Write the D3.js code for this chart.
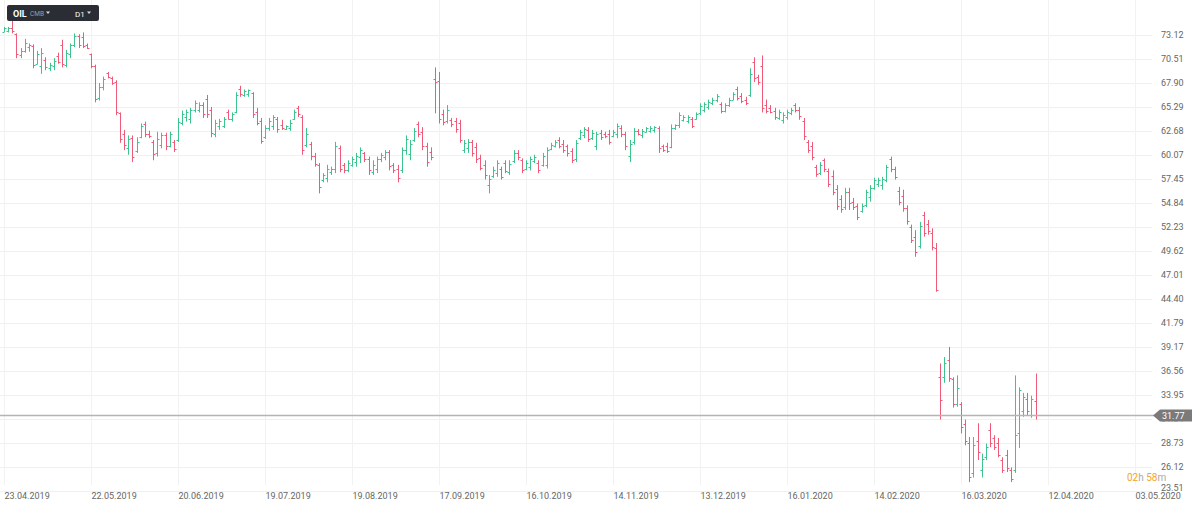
<!DOCTYPE html>
<html><head><meta charset="utf-8">
<script src="https://cdn.jsdelivr.net/npm/d3@7"></script>
<style>html,body{margin:0;padding:0;background:#fff;overflow:hidden}svg{display:block;font-family:Roboto,"Open Sans",sans-serif}</style>
</head><body><svg id="c" width="1200" height="507"></svg>
<script>
const highs = [74.0,74.0,74.8,73.3,71.7,72.7,72.2,72.1,71.4,71.7,70.7,70.1,70.6,71.2,72.6,71.5,72.2,73.3,73.2,73.4,
72.2,71.1,69.9,67.9,68.6,69.1,68.6,68.2,64.7,62.8,62.2,62.2,62.0,63.5,63.7,62.7,61.7,62.6,62.5,62.5,
62.6,61.7,64.1,64.9,65.0,65.2,66.0,65.8,65.8,66.6,65.3,63.9,64.0,64.2,65.0,64.7,66.9,67.6,67.2,67.2,
66.9,65.2,64.1,63.3,64.1,64.4,64.2,63.9,63.3,63.9,65.0,65.4,64.4,63.0,61.5,60.3,59.2,58.1,59.0,58.8,
61.5,61.1,59.2,59.5,59.9,60.3,60.9,60.4,59.9,59.5,59.9,60.3,60.6,60.6,59.2,59.0,60.9,62.2,61.7,63.0,
63.7,63.1,61.4,60.9,69.6,69.1,65.0,65.5,64.1,64.1,63.9,61.7,61.8,61.7,61.4,60.1,59.5,57.9,58.8,59.5,
58.8,59.5,59.5,60.6,60.6,59.7,59.5,59.9,60.1,59.5,60.3,60.9,61.4,61.7,62.0,61.7,61.2,60.8,61.7,62.8,
63.1,63.1,62.8,62.6,62.8,62.6,62.8,62.8,63.5,63.3,62.6,61.7,63.0,62.9,62.9,63.1,63.2,63.2,63.2,61.2,
61.4,63.4,63.4,64.7,64.4,64.4,64.2,64.7,65.7,65.8,66.1,66.3,66.7,65.8,65.7,66.3,66.9,67.5,66.8,66.4,
69.5,70.7,68.8,70.9,66.1,65.5,65.2,65.0,64.7,65.0,65.2,65.7,65.3,64.1,61.7,61.5,59.0,59.3,59.7,58.6,
58.4,56.8,55.7,56.5,56.5,55.4,54.8,54.8,56.3,56.8,57.6,57.6,57.7,59.0,59.9,58.8,56.6,56.3,54.6,52.5,
51.9,52.8,53.9,53.0,52.1,50.5,37.4,38.1,39.2,35.9,36.1,33.2,31.3,29.4,29.4,30.9,27.6,28.7,30.9,29.6,
29.3,27.2,28.0,26.1,36.1,34.8,34.2,34.2,33.9,36.3];
const lows = [73.4,73.4,73.3,70.6,70.6,71.2,71.3,69.5,69.9,68.9,69.3,69.2,69.3,70.0,69.6,69.6,70.6,71.8,71.7,71.7,
71.6,69.5,65.8,66.0,67.1,68.4,67.7,64.4,61.4,60.6,60.1,59.3,60.3,61.9,62.0,61.9,59.5,59.9,60.8,60.6,
60.9,60.4,61.5,63.3,63.7,63.5,64.7,64.7,64.1,64.1,62.0,62.0,62.8,63.0,63.9,63.7,64.6,66.4,66.4,66.4,
64.1,63.3,61.3,61.8,62.7,62.8,62.5,62.8,62.8,62.7,63.9,64.2,60.1,60.9,59.5,58.8,55.9,57.1,57.1,57.9,
58.1,58.2,58.1,58.2,58.8,58.8,59.2,59.3,57.9,57.9,58.1,59.3,59.5,58.4,58.1,57.1,58.1,60.1,59.5,61.5,
62.0,60.6,58.8,59.5,64.6,63.5,63.3,63.5,63.1,62.5,61.4,60.3,60.3,59.9,59.2,58.4,57.4,55.9,57.6,57.7,
57.4,58.1,57.9,59.2,59.5,58.1,58.4,58.4,59.2,58.1,58.8,58.6,60.6,60.9,60.8,60.3,59.9,59.2,59.3,61.7,
61.9,61.5,61.7,60.6,61.7,61.9,61.2,62.0,61.9,62.0,60.6,59.3,61.2,62.2,61.9,62.5,62.5,62.5,60.3,60.4,
60.3,60.8,62.8,63.0,63.7,63.5,63.0,63.9,64.4,64.7,65.0,65.5,65.8,64.6,64.7,65.3,66.0,66.0,65.7,65.5,
66.4,68.0,67.7,64.7,64.6,64.6,63.9,63.9,63.5,63.9,64.4,64.7,63.9,61.7,60.3,59.5,57.7,57.9,58.2,56.6,
55.7,54.1,53.8,54.1,54.1,54.1,53.0,53.8,54.4,55.0,56.3,56.6,56.3,57.1,58.2,57.4,54.6,53.9,52.5,50.5,
49.0,49.9,51.2,51.4,49.7,45.2,31.3,35.3,35.4,32.6,32.7,29.8,28.5,24.5,25.0,26.9,25.0,26.9,28.3,28.0,
27.2,25.5,25.6,24.5,25.5,28.2,31.6,31.8,31.5,31.3];
const opens = [73.5,73.6,73.9,73.2,70.9,71.4,71.8,71.9,70.0,69.8,70.4,69.5,69.8,70.8,72.0,69.9,71.0,72.0,73.0,72.9,
72.0,71.0,69.7,66.3,67.5,69.0,68.4,68.0,64.6,62.3,60.8,61.9,60.5,62.0,63.4,62.4,61.5,60.3,61.2,62.2,
61.1,61.5,61.7,63.6,64.2,64.0,65.0,65.0,65.5,66.2,65.0,62.3,63.2,63.2,64.7,64.0,64.8,67.2,66.6,66.7,
66.8,64.7,63.8,62.0,63.0,63.2,64.0,63.3,62.9,63.0,64.0,65.2,64.2,61.2,61.3,60.0,59.0,57.3,57.6,58.2,
58.5,60.8,59.0,58.4,59.0,59.3,59.8,60.3,59.6,58.2,58.6,59.6,59.9,60.4,59.0,58.6,58.4,60.6,60.2,61.7,
63.4,62.6,61.0,60.4,68.3,68.1,64.5,63.8,63.9,63.8,63.5,60.6,60.8,61.5,60.9,59.7,59.0,56.8,57.8,58.1,
58.5,59.2,58.2,59.4,60.3,59.5,58.6,58.8,59.4,59.2,59.0,59.0,60.7,61.1,61.7,61.3,61.0,60.5,59.6,61.9,
62.2,62.8,61.9,61.0,62.5,62.4,62.4,62.1,62.3,63.0,62.3,60.0,61.5,62.7,62.2,62.6,62.7,62.8,63.0,61.0,
61.0,60.9,63.0,63.3,63.9,63.8,64.0,64.0,64.6,65.0,65.3,65.7,66.0,65.6,64.9,65.5,66.1,67.2,66.5,66.1,
66.6,70.2,68.6,69.8,65.5,65.2,64.9,64.1,63.9,64.2,64.6,65.5,65.0,63.8,61.5,61.0,58.8,58.1,59.5,58.3,
57.8,56.4,55.3,54.4,56.0,55.0,54.5,54.0,54.6,55.5,56.5,56.9,56.8,57.4,59.6,58.5,56.2,55.6,54.3,52.2,
51.2,50.2,53.5,52.6,51.6,50.0,35.9,35.9,37.8,35.7,33.0,33.0,30.8,28.8,25.5,29.0,25.8,27.2,30.2,29.3,
28.8,26.9,27.5,25.8,25.8,29.8,32.2,33.5,31.8,33.3];
const closes = [73.9,73.9,73.6,71.0,71.4,72.2,72.0,69.9,71.0,71.2,69.6,69.9,70.3,70.2,70.0,71.2,72.0,73.0,72.0,71.9,
71.7,69.8,66.2,67.5,68.3,68.5,67.9,64.8,61.8,61.2,61.8,59.8,61.5,63.2,62.3,62.1,60.2,61.8,62.2,61.0,
62.3,60.7,63.7,64.5,64.8,65.0,65.7,65.5,64.5,64.5,62.5,63.5,63.8,64.0,64.0,64.5,66.6,66.7,67.0,67.1,
64.5,63.6,61.6,63.0,63.8,64.2,62.9,63.0,63.2,63.5,64.8,64.5,60.6,62.4,60.0,59.1,56.6,57.9,58.5,58.6,
61.1,58.6,58.4,59.2,59.6,60.0,60.6,59.6,58.4,59.0,59.6,60.1,60.4,58.9,58.4,57.6,60.6,61.8,61.3,62.7,
62.3,61.1,59.3,59.8,68.0,64.0,63.7,65.0,63.4,62.9,61.7,61.4,61.5,60.3,59.6,58.7,57.9,57.5,58.4,59.2,
57.7,58.3,59.1,60.3,59.8,58.4,59.2,59.6,59.9,58.4,60.0,60.6,61.2,61.5,61.0,60.6,60.3,59.5,61.4,62.6,
62.9,61.8,62.5,62.3,62.0,62.1,61.5,62.6,63.2,62.3,61.0,61.3,62.7,62.4,62.7,63.0,63.0,63.1,60.8,60.6,
60.5,63.0,63.3,64.4,64.2,64.2,63.2,64.5,65.4,65.6,65.8,66.1,66.5,64.9,65.5,66.0,66.7,66.3,65.9,65.7,
68.9,68.4,68.0,65.2,64.9,64.8,64.2,64.8,64.4,64.7,65.0,65.0,64.3,62.1,60.6,59.8,58.0,59.0,58.5,56.9,
56.1,54.5,54.2,56.0,54.8,54.4,53.3,54.5,56.0,56.5,57.3,57.4,57.5,58.8,58.6,57.7,55.0,54.3,52.9,50.8,
49.5,52.3,51.6,51.8,50.1,45.4,33.4,37.4,35.8,33.0,34.7,30.5,29.0,25.0,28.5,27.8,27.0,28.3,28.7,28.3,
27.5,25.8,26.0,24.8,29.6,34.5,33.8,32.2,33.5,31.77];
const priceTicks = [73.12,70.51,67.90,65.29,62.68,60.07,57.45,54.84,52.23,49.62,47.01,44.40,41.79,39.17,36.56,33.95,31.34,28.73,26.12,23.51];
const dateLabels = ["23.04.2019","22.05.2019","20.06.2019","19.07.2019","19.08.2019","17.09.2019","16.10.2019","14.11.2019","13.12.2019","16.01.2020","14.02.2020","16.03.2020","12.04.2020","03.05.2020"];
const dateIndex = [0,21,42,63,84,105,126,147,168,189,210,231,252,273];
const lastPrice = 31.77;

const svg = d3.select("#c");
const x = d3.scaleLinear().domain([0,231]).range([4,961]);
const y = d3.scaleLinear().domain([23.51,73.12]).range([491.2,35]);
const UP = "#3cc48e", DOWN = "#ef5a78";
const yc = Math.round(y(lastPrice))+0.5;

// clip so the price tag hides the tick label underneath it (as in the source)
svg.append("defs").append("clipPath").attr("id","tagclip")
  .append("path").attr("d",`M0,0 H1200 V${yc-6} H1153 V${yc+6} H1200 V507 H0 Z`);

// grid
const grid = svg.append("g");
grid.selectAll("line.h").data(priceTicks).join("line").attr("class","h")
  .attr("x1",0).attr("x2",1152)
  .attr("y1",d=>Math.round(y(d))+0.5).attr("y2",d=>Math.round(y(d))+0.5)
  .attr("stroke","#f0f0f0").attr("stroke-width",1);
grid.selectAll("line.v").data(dateIndex).join("line").attr("class","v")
  .attr("x1",d=>Math.round(x(d))+0.5).attr("x2",d=>Math.round(x(d))+0.5)
  .attr("y1",0).attr("y2",485)
  .attr("stroke","#f2f2f2").attr("stroke-width",1);

// bars
const idx = d3.range(highs.length);
const bars = svg.append("g");
idx.forEach(i=>{
  const px = Math.round(x(i));
  const col = closes[i] >= opens[i] ? UP : DOWN;
  const yt = y(highs[i]), yb = y(lows[i]);
  bars.append("rect").attr("x",px).attr("width",1).attr("y",yt).attr("height",Math.max(1,yb-yt)).attr("fill",col);
  bars.append("rect").attr("x",px-1.5).attr("width",1.5).attr("y",Math.round(y(opens[i]))).attr("height",1).attr("fill",col);
  bars.append("rect").attr("x",px+1).attr("width",1.5).attr("y",Math.round(y(closes[i]))).attr("height",1).attr("fill",col);
});

// y labels
const yl = svg.append("g").attr("font-size",9).attr("fill","#666").attr("clip-path","url(#tagclip)");
yl.selectAll("text").data(priceTicks).join("text")
  .attr("x",1161).attr("y",d=>Math.min(y(d),488)+3.3).text(d=>d.toFixed(2));

// x labels
const xl = svg.append("g").attr("font-size",9).attr("fill","#666");
xl.selectAll("text").data(dateIndex).join("text")
  .attr("x",(d,i)=>x(d)+0.5).attr("y",499).text((d,i)=>dateLabels[i]);

// current price line + label
svg.append("line").attr("x1",0).attr("x2",1154).attr("y1",yc).attr("y2",yc).attr("stroke","#b4b4b4").attr("stroke-width",1.5);
svg.append("path").attr("d",`M1153,${yc} L1160,${yc-6} L1192,${yc-6} L1192,${yc+6} L1160,${yc+6} Z`).attr("fill","#7a7a7a");
svg.append("text").attr("x",1162).attr("y",yc+3.3).attr("font-size",9).attr("fill","#fff").text(lastPrice.toFixed(2));

// countdown
const cd = svg.append("text").attr("x",1127).attr("y",481).attr("font-size",10);
cd.append("tspan").attr("fill","#f5a623").text("02");
cd.append("tspan").attr("fill","#aaa").text("h ");
cd.append("tspan").attr("fill","#f5a623").text("58");
cd.append("tspan").attr("fill","#aaa").text("m");

// toolbar
const tb = svg.append("g");
tb.append("rect").attr("x",7).attr("y",5).attr("width",92).attr("height",16).attr("rx",2).attr("fill","#2a2d33");
tb.append("text").attr("x",13).attr("y",16.5).attr("font-size",9).attr("font-weight","bold").attr("fill","#fff").text("OIL");
tb.append("text").attr("x",30).attr("y",16).attr("font-size",6.5).attr("fill","#9aa0a8").text("CMB");
tb.append("path").attr("d","M46,11.5 L50,11.5 L48,14 Z").attr("fill","#ddd");
tb.append("text").attr("x",75).attr("y",16.5).attr("font-size",8).attr("fill","#fff").text("D1");
tb.append("path").attr("d","M87,11.5 L91,11.5 L89,14 Z").attr("fill","#ddd");
</script></body></html>
